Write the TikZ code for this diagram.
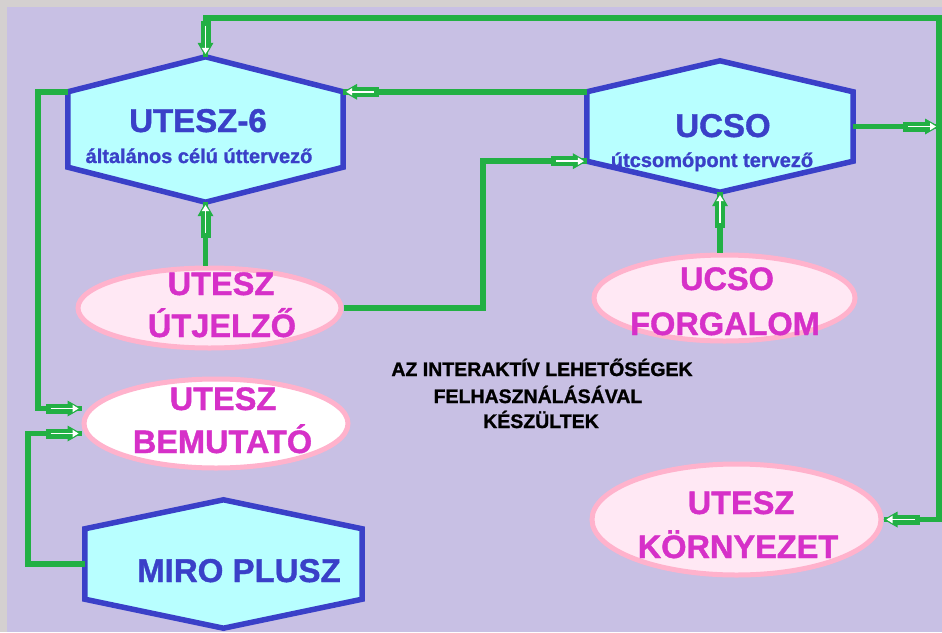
\documentclass[tikz,border=0pt]{standalone}
\usepackage{fontspec}
\setmainfont{Liberation Sans}[BoldFeatures={FakeBold=1.2}]
\usetikzlibrary{shapes.geometric,decorations.markings,calc}
\definecolor{bggray}{RGB}{212,208,208}
\definecolor{bgpurple}{RGB}{200,192,228}
\definecolor{hexfill}{RGB}{184,255,255}
\definecolor{hexblue}{RGB}{58,64,200}
\definecolor{ellfill}{RGB}{255,232,244}
\definecolor{ellpink}{RGB}{255,178,204}
\definecolor{magtext}{RGB}{214,48,200}
\definecolor{flowgreen}{RGB}{34,176,68}
\newcommand\drawhexagon[2]{%
  \path[hexline] (#1.north) -- ([yshift=-#2]#1.north east) -- ([yshift=#2]#1.south east)
    -- (#1.south) -- ([yshift=#2]#1.south west) -- ([yshift=-#2]#1.north west) -- cycle;
  \coordinate (#1-ul) at ([yshift=-#2]#1.north west);
  \coordinate (#1-ur) at ([yshift=-#2]#1.north east);
  \coordinate (#1-ll) at ([yshift=#2]#1.south west);
  \coordinate (#1-lr) at ([yshift=#2]#1.south east);}
\begin{document}
\begin{tikzpicture}[x=1pt,y=-1pt,
  hexbox/.style={rectangle, inner sep=0pt, draw=none},
  hexline/.style={draw=hexblue, fill=hexfill, line width=5.5pt, line join=miter},
  oval/.style={ellipse, inner sep=0pt, draw=ellpink, fill=ellfill, line width=5pt},
  hextitle/.style={font=\bfseries\fontsize{33}{36}\selectfont, text=hexblue, anchor=base, inner sep=0pt},
  hexsub/.style={font=\bfseries\fontsize{20}{22}\selectfont, text=hexblue, anchor=base, inner sep=0pt},
  ovaltext/.style={font=\bfseries\fontsize{32.5}{36}\selectfont, text=magtext, anchor=base, inner sep=0pt},
  midtext/.style={font=\bfseries\fontsize{19.5}{22}\selectfont, text=black, anchor=base, inner sep=0pt},
  flow/.style={draw=flowgreen, line width=5.5pt, postaction={decorate},
    decoration={markings, mark=at position 1 with {
      \fill[flowgreen] (-36pt,-5pt) rectangle (-11pt,5pt);
      \fill[flowgreen] (0pt,0pt) -- (-14pt,8pt) -- (-14pt,-8pt) -- cycle;
      \draw[white, line width=1.8pt] (-31pt,0pt) -- (-8pt,0pt);
      \fill[white] (-3pt,0pt) -- (-9pt,3.8pt) -- (-9pt,-3.8pt) -- cycle;}}}
]
\useasboundingbox (0,0) rectangle (942,632);
\fill[bggray] (0,0) rectangle (942,632);
\fill[bgpurple] (7,7) rectangle (942,632);

% hexagons
\node[hexbox, minimum width=275pt, minimum height=145pt] (u6) at (205.5,129.5) {};
\node[hexbox, minimum width=266pt, minimum height=131pt] (ucso) at (720,126.5) {};
\node[hexbox, minimum width=277pt, minimum height=128pt] (miro) at (223.5,564) {};
\drawhexagon{u6}{35pt}
\drawhexagon{ucso}{31pt}
\drawhexagon{miro}{29pt}

% ellipses
\node[oval, minimum width=263pt, minimum height=80pt] (utj) at (209.5,308) {};
\node[oval, minimum width=261pt, minimum height=86pt] (forg) at (724.5,298) {};
\node[oval, fill=white, minimum width=264pt, minimum height=89pt] (bem) at (216,423.5) {};
\node[oval, minimum width=289pt, minimum height=111pt] (korn) at (736.5,519.5) {};

% helper coordinates
\coordinate (busA) at (939,126.5);
\coordinate (toprow) at (0,18);
\coordinate (lbus1) at (38,0);
\coordinate (lbus2) at (28,0);
\coordinate (jog) at (483,0);

% connectors
\draw[flow] (ucso.east) -- (busA);
\draw[flow] (busA) -- (busA |- toprow) -| (u6.north);
\draw[flow] (busA) |- (korn.east);
\draw[flow] (ucso-ul) -- (ucso-ul -| u6.east);
\draw[flow] (u6.south |- utj.north) -- (u6.south);
\draw[flow] (utj.east) -| (jog |- ucso-ll) -- (ucso-ll);
\draw[flow] (ucso.south |- forg.north) -- (ucso.south);
\draw[flow] (u6-ul) -- (lbus1 |- u6-ul) |- ([yshift=15pt]bem.west);
\draw[flow] (miro.west) -- (lbus2 |- miro.west) |- ([yshift=-10pt]bem.west);

% texts
\node[hextitle] (u6t) at (198,132) {UTESZ-6};
\node[hexsub] (u6s) at (199,163) {általános célú úttervező};
\node[hextitle] (ucsot) at (723,137) {UCSO};
\node[hexsub] (ucsos) at (712,167) {útcsomópont tervező};
\node[hextitle] (mirot) at (239,582) {MIRO PLUSZ};
\node[ovaltext] (utj1) at (221,295) {UTESZ};
\node[ovaltext] (utj2) at (222,337) {ÚTJELZŐ};
\node[ovaltext] (forg1) at (727,290) {UCSO};
\node[ovaltext] (forg2) at (725,335) {FORGALOM};
\node[ovaltext] (bem1) at (223,410) {UTESZ};
\node[ovaltext] (bem2) at (222.5,453) {BEMUTATÓ};
\node[ovaltext] (korn1) at (741,514) {UTESZ};
\node[ovaltext] (korn2) at (738,558) {KÖRNYEZET};
\node[midtext] (mid1) at (542,376) {AZ INTERAKTÍV LEHETŐSÉGEK};
\node[midtext] (mid2) at (538,403) {FELHASZNÁLÁSÁVAL};
\node[midtext] (mid3) at (541,428) {KÉSZÜLTEK};
\end{tikzpicture}
\end{document}
